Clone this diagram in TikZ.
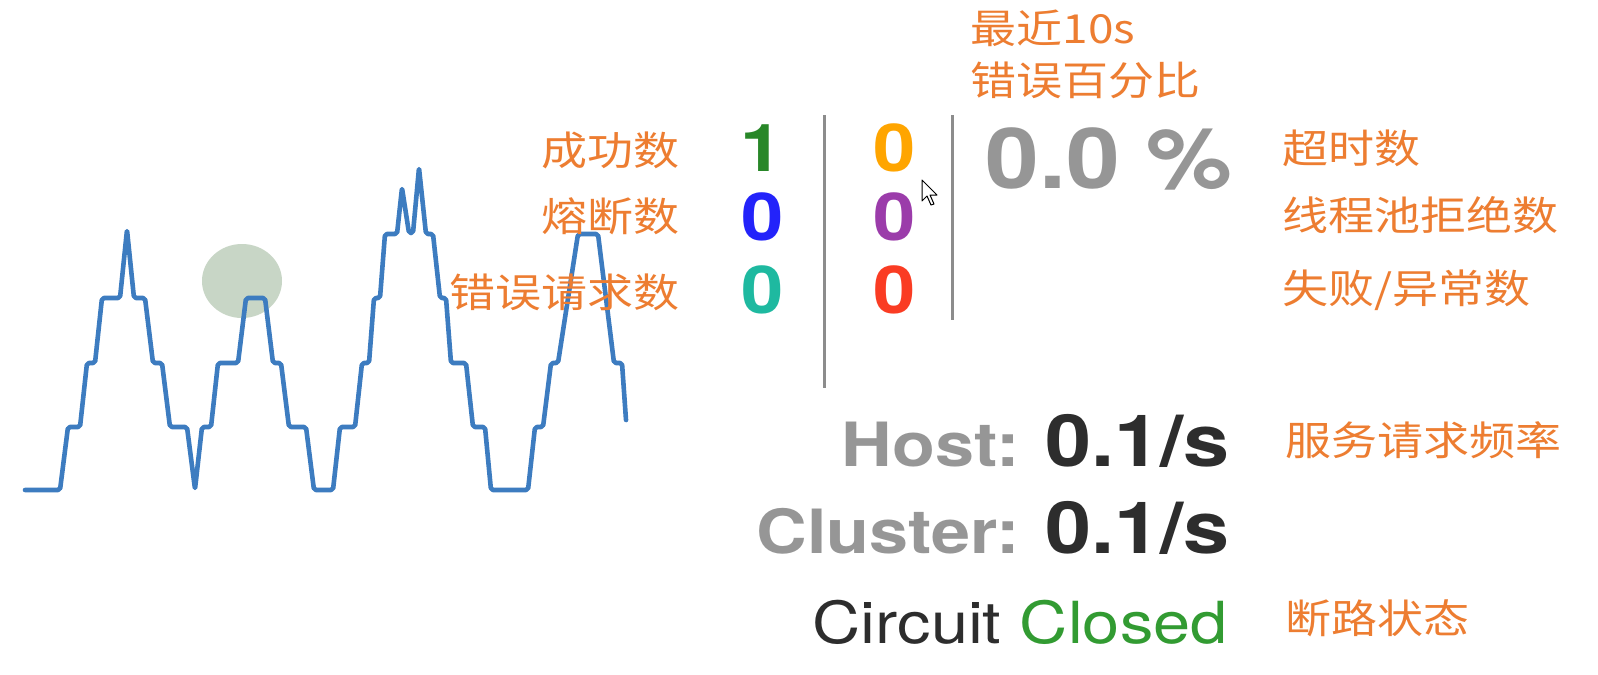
\documentclass[tikz,border=0pt]{standalone}
\usepackage{fontspec}
\setmainfont{TeX Gyre Heros}
\newfontfamily\cjk{Noto Sans CJK SC}
\definecolor{tagorange}{RGB}{237,125,49}
\definecolor{wave}{RGB}{61,124,192}
\definecolor{blob}{RGB}{200,214,198}
\definecolor{sepgray}{RGB}{140,140,140}
\definecolor{keygray}{RGB}{150,150,150}
\definecolor{dark}{RGB}{45,45,45}
\definecolor{cntgreen}{RGB}{40,135,40}
\definecolor{cntorange}{RGB}{255,165,0}
\definecolor{cntblue}{RGB}{35,35,250}
\definecolor{cntpurple}{RGB}{155,60,170}
\definecolor{cntteal}{RGB}{30,185,160}
\definecolor{cntred}{RGB}{250,60,35}
\definecolor{closedgreen}{RGB}{50,155,50}
\begin{document}
\begin{tikzpicture}[x=0.5pt,y=-0.5pt,
  tag/.style={text=tagorange, font=\cjk\fontsize{20}{24}\selectfont, inner sep=0pt, xscale=1.15},
  cnt/.style={font=\bfseries\fontsize{33}{36}\selectfont, inner sep=0pt, xscale=1.15},
  pct/.style={text=keygray, font=\bfseries\fontsize{42}{46}\selectfont, inner sep=0pt, xscale=1.15},
  ratebox/.style={text=dark, font=\bfseries\fontsize{36}{40}\selectfont, inner sep=0pt, xscale=1.15},
  statebox/.style={text=dark, font=\fontsize{29}{32}\selectfont, inner sep=0pt, xscale=1.15},
  sep/.style={sepgray, line width=1.5pt}]
\useasboundingbox (0,0) rectangle (1598,674);
\fill[white] (0,0) rectangle (1598,674);

% request volume graph
\fill[blob] (242,281) ellipse [x radius=40, y radius=37];
\draw[wave, line width=2.3pt, rounded corners=1pt, line cap=round, line join=round]
  (25,490) -- (60,490) -- (68,427) -- (80,427) -- (87,363) -- (95,363) -- (102,298) -- (120,298)
  -- (127,230) -- (134,298) -- (145,298) -- (153,363) -- (162,363) -- (170,427) -- (187,427)
  -- (195,489) -- (202,427) -- (211,427) -- (218,363) -- (238,363) -- (246,298) -- (265,298)
  -- (273,363) -- (281,363) -- (289,427) -- (306,427) -- (314,490) -- (333,490) -- (340,427)
  -- (355,427) -- (362,363) -- (369,363) -- (374,298) -- (380,298) -- (385,234) -- (397,234)
  -- (402,188) -- (409,233) -- (413,233) -- (419,168) -- (426,234) -- (433,234) -- (440,298)
  -- (446,298) -- (451,363) -- (466,363) -- (473,427) -- (485,427) -- (491,490) -- (528,490)
  -- (535,427) -- (543,427) -- (551,363) -- (558,363) -- (578,234) -- (598,234) -- (614,363)
  -- (622,363) -- (626,420);

% labels left
\node[tag, anchor=east] (succ) at (680,150) {成功数};
\node[tag, anchor=east] (short) at (680,216) {熔断数};
\node[tag, anchor=east] (bad) at (680,292) {错误请求数};

% counters
\node[cnt, text=cntgreen] (nsucc) at (762,148) {1};
\node[cnt, text=cntblue] (nshort) at (763,217) {0};
\node[cnt, text=cntteal] (nbad) at (763,290) {0};
\node[cnt, text=cntorange] (ntmo) at (895,148) {0};
\node[cnt, text=cntpurple] (nrej) at (895,217) {0};
\node[cnt, text=cntred] (nfail) at (895,290) {0};

\coordinate (sepatop) at (824,115);
\coordinate (sepabot) at (824,388);
\coordinate (sepbtop) at (952,115);
\coordinate (sepbbot) at (952,320);
\draw[sep] (sepatop) -- (sepabot);
\draw[sep] (sepbtop) -- (sepbbot);

% error percentage
\node[tag, anchor=west] (recent) at (970,28) {最近10s};
\node[tag, anchor=west] (errpct) at (970,80) {错误百分比};
\node[pct, anchor=west] (errval) at (985,159) {0.0 \%};

% labels right
\node[tag, anchor=west] (tmo) at (1282,148) {超时数};
\node[tag, anchor=west] (rej) at (1282,215) {线程池拒绝数};
\node[tag, anchor=west] (fail) at (1282,290) {失败/异常数};

% rates and circuit
\node[ratebox, anchor=base east] (host) at (1230,466) {{\color{keygray}\fontsize{30.5}{32}\selectfont Host: }0.1/s};
\node[ratebox, anchor=base east] (cluster) at (1230,553) {{\color{keygray}\fontsize{30.5}{32}\selectfont Cluster: }0.1/s};
\node[statebox, anchor=base east] (circuit) at (1228,643) {Circuit \textcolor{closedgreen}{Closed}};
\node[tag, anchor=west] (rate) at (1285,440) {服务请求频率};
\node[tag, anchor=west] (state) at (1285,618) {断路状态};

% mouse pointer
\draw[black, fill=white, line width=0.5pt, line join=round]
  (922,180) -- (922,201) -- (927,196) -- (931,205) -- (934,204) -- (930,195) -- (937,195) -- cycle;
\end{tikzpicture}
\end{document}
